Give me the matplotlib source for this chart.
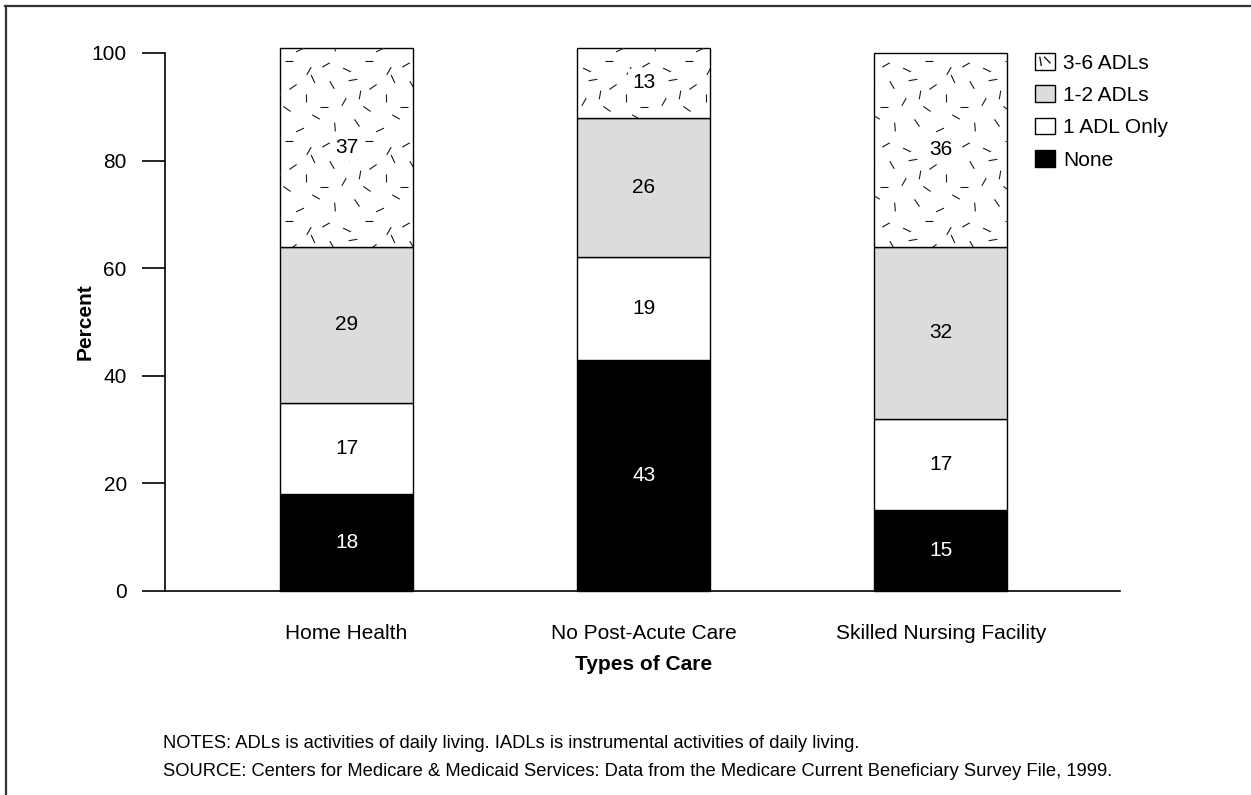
import numpy as np
import matplotlib
matplotlib.use("Agg")
import matplotlib.pyplot as plt
from matplotlib.collections import LineCollection
from matplotlib.patches import Patch
from matplotlib.lines import Line2D
from matplotlib.transforms import IdentityTransform

plt.rcParams["font.family"] = ["Liberation Sans", "DejaVu Sans"]

# ---- data -------------------------------------------------------------
care_types = ["Home Health", "No Post-Acute Care", "Skilled Nursing Facility"]
series_names = ["None", "1 ADL Only", "1-2 ADLs", "3-6 ADLs"]
none_pct = [18, 43, 15]
one_adl_pct = [17, 19, 17]
one_two_adl_pct = [29, 26, 32]
three_six_adl_pct = [37, 13, 36]
y_ticks = [0, 20, 40, 60, 80, 100]

notes_text = ("NOTES: ADLs is activities of daily living. "
              "IADLs is instrumental activities of daily living.")
source_text = ("SOURCE: Centers for Medicare & Medicaid Services: Data from the "
               "Medicare Current Beneficiary Survey File, 1999.")

# ---- figure -----------------------------------------------------------
W, H = 1251, 795
fig = plt.figure(figsize=(W / 100, H / 100), dpi=100)
ax = fig.add_axes([165 / W, 1 - 591 / H, (1120 - 165) / W, (591 - 53) / H])

FS = 15
x = np.arange(len(care_types))
bar_w = 0.447
series = [none_pct, one_adl_pct, one_two_adl_pct, three_six_adl_pct]
faces = ["black", "white", "#dcdcdc", "white"]
text_colors = ["white", "black", "black", "black"]

bottom = np.zeros(len(care_types))
containers = []
for k, (vals, fc, tc) in enumerate(zip(series, faces, text_colors)):
    bars = ax.bar(x, vals, width=bar_w, bottom=bottom, color=fc,
                  edgecolor="black", linewidth=1.0, clip_on=False, zorder=2)
    containers.append(bars)
    for xi, b, v in zip(x, bottom, vals):
        kw = {}
        if k == 3:
            kw["bbox"] = dict(facecolor="white", edgecolor="none", pad=3)
        ax.text(xi, b + v / 2, f"{v}", ha="center", va="center",
                fontsize=FS, color=tc, zorder=4, **kw)
    bottom = bottom + np.array(vals)

ax.set_xlim(-0.611, 2.603)
ax.set_ylim(0, 100)
ax.set_yticks(y_ticks)
ax.set_xticks(x)
ax.set_xticklabels(care_types)

for s in ("top", "right"):
    ax.spines[s].set_visible(False)
for s in ("left", "bottom"):
    ax.spines[s].set_linewidth(1.2)
ax.tick_params(axis="y", length=16.5, width=1.2, pad=11, labelsize=FS)
ax.tick_params(axis="x", length=0, pad=24, labelsize=FS)

# ---- scattered-dash texture for the 3-6 ADLs segments (pixel tile) ----
tile = 80
dash_tile = [(6, 10, 30), (27, 5, 155), (49, 14, 0), (69, 4, 60),
             (15, 28, 95), (37, 32, 125), (60, 25, 25), (76, 38, 150),
             (4, 48, 0), (24, 53, 60), (47, 46, 145), (66, 57, 90),
             (12, 70, 120), (33, 75, 10), (53, 68, 35), (73, 76, 115),
             (40, 60, 80)]
half = 4.4


def dash_segments(bb):
    segs = []
    x0 = int(np.floor(bb.x0 / tile)) * tile
    y0 = int(np.floor(bb.y0 / tile)) * tile
    for tx in range(x0, int(bb.x1) + tile, tile):
        for ty in range(y0, int(bb.y1) + tile, tile):
            for dx, dy, ang in dash_tile:
                cx, cy = tx + dx, ty + dy
                a = np.deg2rad(ang)
                ex, ey = half * np.cos(a), half * np.sin(a)
                segs.append([(cx - ex, cy - ey), (cx + ex, cy + ey)])
    return segs


for patch in containers[3].patches:
    bb = patch.get_window_extent()
    lc = LineCollection(dash_segments(bb), colors="#1a1a1a", linewidths=0.8,
                        transform=IdentityTransform(), zorder=3)
    ax.add_collection(lc, autolim=False)
    lc.set_clip_path(patch)

# ---- legend -----------------------------------------------------------
handles = [Patch(facecolor=f, edgecolor="black", linewidth=1.0, label=n)
           for n, f in zip(series_names, faces)][::-1]
leg = fig.legend(handles=handles, loc="upper left",
                 bbox_to_anchor=(1035 / W, 1 - 53 / H), frameon=False,
                 fontsize=FS, handlelength=0.95, handleheight=0.85,
                 handletextpad=0.4, labelspacing=0.62, borderpad=0,
                 borderaxespad=0)

fig.canvas.draw()
hb = leg.legend_handles[0].get_window_extent()
w, h = hb.width, hb.height
lsegs = [[(hb.x0 + 0.32 * w, hb.y0 + 0.22 * h), (hb.x0 + 0.24 * w, hb.y0 + 0.78 * h)],
         [(hb.x0 + 0.46 * w, hb.y0 + 0.78 * h), (hb.x0 + 0.78 * w, hb.y0 + 0.38 * h)]]
fig.add_artist(LineCollection(lsegs, colors="#1a1a1a", linewidths=1.0,
                              transform=IdentityTransform(), zorder=10))

# ---- axis titles and notes -------------------------------------------
fig.text(85 / W, 1 - 322 / H, "Percent", rotation=90, ha="center",
         va="center", fontsize=FS, fontweight="bold")
fig.text(644 / W, 1 - 665 / H, "Types of Care", ha="center", va="center",
         fontsize=FS, fontweight="bold")
fig.text(163 / W, 1 - 744 / H, notes_text, ha="left", va="center",
         fontsize=13.2)
fig.text(163 / W, 1 - 772 / H, source_text, ha="left", va="center",
         fontsize=13.2)

# ---- page frame (top and left rules) ----------------------------------
frame_kw = dict(transform=fig.transFigure, color="#333333", linewidth=1.6)
fig.add_artist(Line2D([5 / W, 1], [1 - 6 / H, 1 - 6 / H], **frame_kw))
fig.add_artist(Line2D([5.5 / W, 5.5 / W], [0, 1 - 6 / H], **frame_kw))

fig.savefig("out.png", dpi=100)
